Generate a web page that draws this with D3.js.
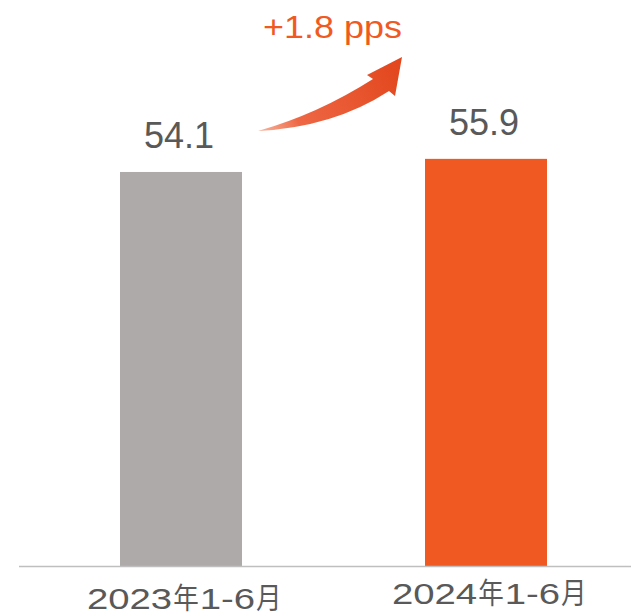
<!DOCTYPE html>
<html>
<head>
<meta charset="utf-8">
<script src="https://cdn.jsdelivr.net/npm/d3@7"></script>
<style>
  body { margin: 0; background: #fff; }
  svg { display: block; }
</style>
</head>
<body>
<div class="chart"></div>
<script>
var width = 631, height = 615;

// data
var categories = ["2023年1-6月", "2024年1-6月"];
var values = [54.1, 55.9];
var colors = ["#aeaaaa", "#f05a22"];
var changeLabel = "+1.8 pps";

var svg = d3.select(".chart")
  .append("svg")
    .attr("width", width)
    .attr("height", height);

var x = d3.scaleBand()
    .domain(categories)
    .range([28.5, 638.5])
    .paddingInner(0.6)
    .paddingOuter(0.3);

var y = d3.scaleLinear()
    .domain([0, 60])
    .range([566, 129]);

// bars
svg.selectAll("rect.bar")
  .data(values)
  .enter().append("rect")
    .attr("class", "bar")
    .attr("x", function(d, i) { return x(categories[i]); })
    .attr("y", function(d) { return y(d); })
    .attr("width", x.bandwidth())
    .attr("height", function(d) { return y(0) - y(d); })
    .style("fill", function(d, i) { return colors[i]; });

// baseline
svg.append("line")
    .attr("x1", 19).attr("x2", width)
    .attr("y1", y(0) + 0.5).attr("y2", y(0) + 0.5)
    .style("stroke", "#bfbfbf")
    .style("stroke-width", 1.5);

// value labels
svg.selectAll("text.value")
  .data(values)
  .enter().append("text")
    .attr("class", "value")
    .attr("x", function(d, i) { return x(categories[i]) + x.bandwidth() / 2 - 2; })
    .attr("y", function(d) { return y(d) - 24; })
    .attr("text-anchor", "middle")
    .style("font-family", "'Liberation Sans', Arial, sans-serif")
    .style("font-size", "36px")
    .style("fill", "#595959")
    .text(function(d) { return d.toFixed(1); });

// category labels: digits drawn wide, CJK glyphs narrow, like the original
var catG = svg.selectAll("g.cat")
  .data(categories)
  .enter().append("g")
    .attr("class", "cat")
    .attr("transform", function(d, i) {
      return "translate(" + (x(d) + x.bandwidth() / 2 - 94) + "," + (i === 0 ? 609 : 604) + ")";
    });

catG.each(function(label) {
  var g = d3.select(this), cx = 0;
  label.match(/[\d-]+|[^\d-]+/g).forEach(function(part) {
    var t = g.append("text")
        .attr("x", cx)
        .style("font-family", "'Liberation Sans', Arial, 'Noto Sans CJK SC', sans-serif")
        .style("font-size", "29px")
        .style("fill", "#595959")
        .text(part);
    var w = t.node().getComputedTextLength() * (/\d/.test(part) ? 1.32 : 0.88);
    t.attr("textLength", w).attr("lengthAdjust", "spacingAndGlyphs");
    cx += w + 1;
  });
});

// change arrow
var defs = svg.append("defs");
var grad = defs.append("linearGradient")
    .attr("id", "arrowGrad")
    .attr("gradientUnits", "userSpaceOnUse")
    .attr("x1", 258).attr("y1", 130)
    .attr("x2", 400).attr("y2", 60);
grad.append("stop").attr("offset", "0%").attr("stop-color", "#f49a7c").attr("stop-opacity", 0.75);
grad.append("stop").attr("offset", "25%").attr("stop-color", "#ee6744");
grad.append("stop").attr("offset", "100%").attr("stop-color", "#e2461c");

svg.append("path")
    .attr("d", "M258,131 Q334,127 389,91 L395,96 L402,57 L367,75 L373,79 Q318,114 258,131 Z")
    .style("fill", "url(#arrowGrad)");

svg.append("text")
    .attr("x", 263)
    .attr("y", 38)
    .attr("textLength", 139)
    .attr("lengthAdjust", "spacingAndGlyphs")
    .style("font-family", "'Liberation Sans', Arial, sans-serif")
    .style("font-size", "32px")
    .style("fill", "#f05a22")
    .text(changeLabel);
</script>
</body>
</html>
